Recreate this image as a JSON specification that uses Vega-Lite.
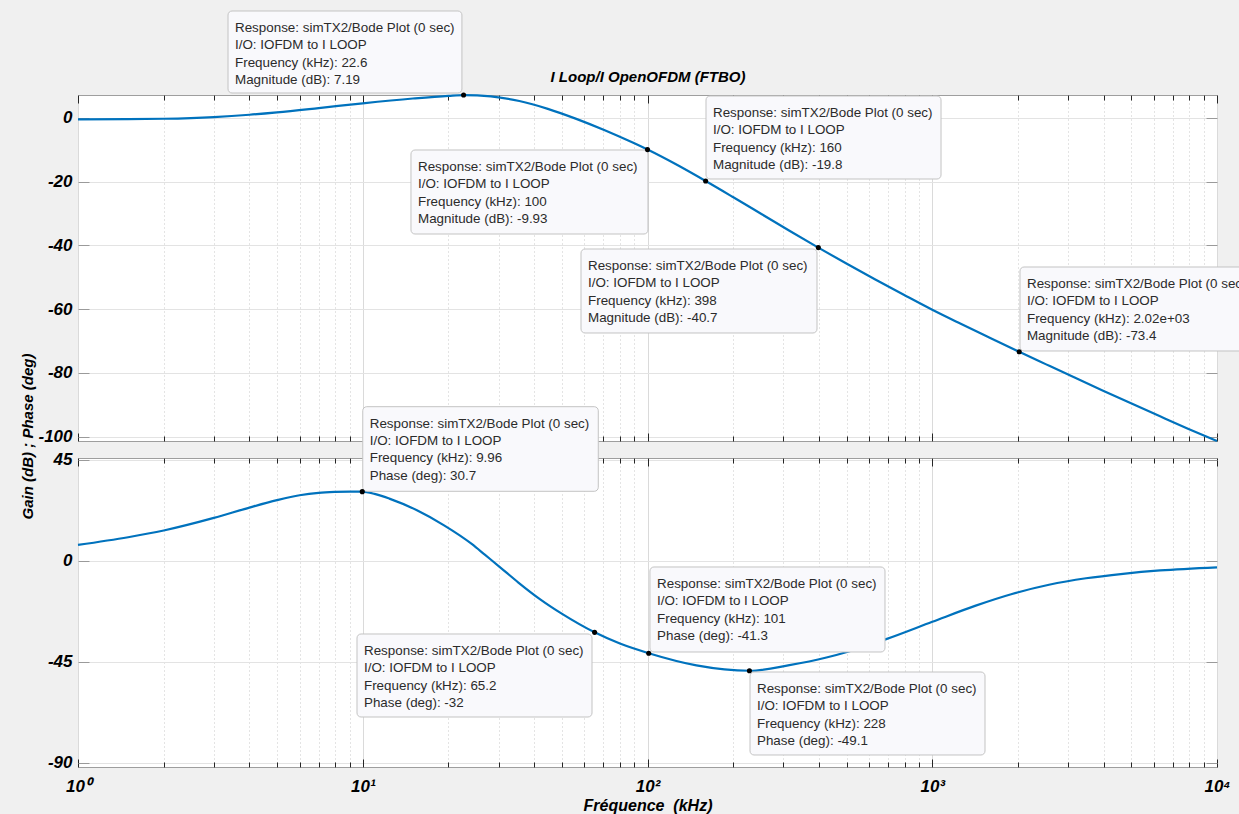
{
  "$schema": "https://vega.github.io/schema/vega-lite/v6.json",
  "background": "#f0f0f0",
  "padding": {"left": 19, "top": 9, "right": 0, "bottom": 0},
  "spacing": 17,
  "bounds": "flush",
  "config": {
    "view": {"fill": "white", "stroke": "#9e9e9e", "strokeWidth": 1},
    "font": "Liberation Sans",
    "axis": {"domain": false, "labelOverlap": false, "labelFlush": false}
  },
  "datasets": {
    "mag": [
      {"f": 1, "db": -0.45}, {"f": 1.5, "db": -0.4}, {"f": 2, "db": -0.26}, {"f": 3, "db": 0.28},
      {"f": 4, "db": 1.0}, {"f": 5, "db": 1.75}, {"f": 7, "db": 3.1}, {"f": 10, "db": 4.6},
      {"f": 15, "db": 6.1}, {"f": 20, "db": 6.95}, {"f": 22.6, "db": 7.19}, {"f": 28.18, "db": 6.76},
      {"f": 35.48, "db": 5.31}, {"f": 44.67, "db": 2.86}, {"f": 56.23, "db": -0.29}, {"f": 70.79, "db": -3.87},
      {"f": 89.13, "db": -7.82}, {"f": 100, "db": -9.93}, {"f": 125.9, "db": -14.56}, {"f": 160, "db": -19.8},
      {"f": 199.5, "db": -24.82}, {"f": 251.2, "db": -30.15}, {"f": 316.2, "db": -35.48}, {"f": 398, "db": -40.7},
      {"f": 501.2, "db": -45.79}, {"f": 631, "db": -50.71}, {"f": 794.3, "db": -55.5}, {"f": 1000, "db": -60.2},
      {"f": 1259, "db": -64.6}, {"f": 1585, "db": -68.9}, {"f": 2020, "db": -73.4}, {"f": 2512, "db": -77.35},
      {"f": 3162, "db": -81.5}, {"f": 3981, "db": -85.6}, {"f": 5012, "db": -89.65}, {"f": 6310, "db": -93.65},
      {"f": 7943, "db": -97.6}, {"f": 10000, "db": -101.4}
    ],
    "phase": [
      {"f": 1, "deg": 7.0}, {"f": 1.5, "deg": 10.4}, {"f": 2, "deg": 13.4}, {"f": 3, "deg": 19.0},
      {"f": 4, "deg": 23.6}, {"f": 5, "deg": 26.9}, {"f": 6, "deg": 29.1}, {"f": 7, "deg": 30.2},
      {"f": 8, "deg": 30.6}, {"f": 9, "deg": 30.75}, {"f": 9.96, "deg": 30.7}, {"f": 11, "deg": 29.7},
      {"f": 12.4, "deg": 27.6}, {"f": 15.5, "deg": 22.4}, {"f": 19.3, "deg": 15.7}, {"f": 24.2, "deg": 7.3},
      {"f": 26.9, "deg": 2.5}, {"f": 30.3, "deg": -2.9}, {"f": 35.2, "deg": -9.8}, {"f": 42, "deg": -17.3},
      {"f": 50.3, "deg": -23.9}, {"f": 65.2, "deg": -32.0}, {"f": 80, "deg": -37.0}, {"f": 101, "deg": -41.3},
      {"f": 148.5, "deg": -46.7}, {"f": 228, "deg": -49.1}, {"f": 315, "deg": -46.6}, {"f": 425, "deg": -43.2},
      {"f": 509, "deg": -40.5}, {"f": 689, "deg": -35.0}, {"f": 1000, "deg": -27.3}, {"f": 1413, "deg": -20.2},
      {"f": 1906, "deg": -14.9}, {"f": 2570, "deg": -10.8}, {"f": 3467, "deg": -7.9}, {"f": 4677, "deg": -5.9},
      {"f": 6310, "deg": -4.4}, {"f": 10000, "deg": -3.0}
    ],
    "magTips": [
      {"f": 22.6, "v": 7.19, "bx1": 3.364, "bx2": 22.3, "by1": 33.57, "by2": 7.83, "tx": 3.559, "ty": 30.43,
       "label": "Response: simTX2/Bode Plot (0 sec)\nI/O: IOFDM to I LOOP\nFrequency (kHz): 22.6\nMagnitude (dB): 7.19"},
      {"f": 160, "v": -19.8, "bx1": 160.5, "bx2": 1073.5, "by1": 6.89, "by2": -19.17, "tx": 169.8, "ty": 3.75,
       "label": "Response: simTX2/Bode Plot (0 sec)\nI/O: IOFDM to I LOOP\nFrequency (kHz): 160\nMagnitude (dB): -19.8"},
      {"f": 100, "v": -9.93, "bx1": 14.77, "bx2": 100.4, "by1": -10.06, "by2": -36.43, "tx": 15.63, "ty": -13.2,
       "label": "Response: simTX2/Bode Plot (0 sec)\nI/O: IOFDM to I LOOP\nFrequency (kHz): 100\nMagnitude (dB): -9.93"},
      {"f": 398, "v": -40.7, "bx1": 58.41, "bx2": 393.8, "by1": -41.14, "by2": -67.5, "tx": 61.81, "ty": -44.28,
       "label": "Response: simTX2/Bode Plot (0 sec)\nI/O: IOFDM to I LOOP\nFrequency (kHz): 398\nMagnitude (dB): -40.7"},
      {"f": 2020, "v": -73.4, "bx1": 2033, "bx2": 14158, "by1": -46.79, "by2": -73.15, "tx": 2151, "ty": -49.92,
       "label": "Response: simTX2/Bode Plot (0 sec)\nI/O: IOFDM to I LOOP\nFrequency (kHz): 2.02e+03\nMagnitude (dB): -73.4"}
    ],
    "phaseTips": [
      {"f": 9.96, "v": 30.7, "bx1": 10.0, "bx2": 67.17, "by1": 68.56, "by2": 30.86, "tx": 10.58, "ty": 64.1,
       "label": "Response: simTX2/Bode Plot (0 sec)\nI/O: IOFDM to I LOOP\nFrequency (kHz): 9.96\nPhase (deg): 30.7"},
      {"f": 65.2, "v": -32, "bx1": 9.546, "bx2": 63.84, "by1": -32.73, "by2": -69.72, "tx": 10.1, "ty": -37.19,
       "label": "Response: simTX2/Bode Plot (0 sec)\nI/O: IOFDM to I LOOP\nFrequency (kHz): 65.2\nPhase (deg): -32"},
      {"f": 101, "v": -41.3, "bx1": 102.0, "bx2": 682.4, "by1": -2.87, "by2": -40.75, "tx": 108.0, "ty": -7.33,
       "label": "Response: simTX2/Bode Plot (0 sec)\nI/O: IOFDM to I LOOP\nFrequency (kHz): 101\nPhase (deg): -41.3"},
      {"f": 228, "v": -49.1, "bx1": 229.1, "bx2": 1532, "by1": -49.67, "by2": -86.65, "tx": 242.4, "ty": -54.12,
       "label": "Response: simTX2/Bode Plot (0 sec)\nI/O: IOFDM to I LOOP\nFrequency (kHz): 228\nPhase (deg): -49.1"}
    ]
  },
  "vconcat": [
    {
      "width": 1139,
      "height": 346,
      "resolve": {"axis": {"x": "independent", "y": "independent"}},
      "layer": [
        {
          "data": {"name": "mag"},
          "mark": {"type": "line", "color": "#0072BD", "strokeWidth": 2.2, "interpolate": "monotone"},
          "encoding": {
            "x": {"field": "f", "type": "quantitative", "scale": {"type": "log", "domain": [1, 10000], "nice": false},
              "axis": {"orient": "bottom", "values": [1,2,3,4,5,6,7,8,9,10,20,30,40,50,60,70,80,90,100,200,300,400,500,600,700,800,900,1000,2000,3000,4000,5000,6000,7000,8000,9000,10000],
                "grid": true,
                "gridColor": {"condition": {"test": "indexof([1,10,100,1000,10000], datum.value) >= 0", "value": "#dadada"}, "value": "#c8c8c8"},
                "gridDash": {"condition": {"test": "indexof([1,10,100,1000,10000], datum.value) >= 0", "value": []}, "value": [1, 3]},
                "ticks": true, "tickColor": "#262626",
                "tickSize": {"condition": {"test": "indexof([1,10,100,1000,10000], datum.value) >= 0", "value": -8}, "value": -5},
                "labels": false, "title": null}},
            "y": {"field": "db", "type": "quantitative", "scale": {"domain": [-101.4, 7.2], "nice": false, "zero": false},
              "axis": {"orient": "left", "values": [0, -20, -40, -60, -80, -100], "grid": true, "gridColor": "#e3e3e3",
                "ticks": true, "tickColor": "#9a9a9a", "tickSize": -11,
                "labelExpr": "'' + datum.value", "labelFont": "Liberation Sans", "labelFontSize": 17, "labelFontWeight": "bold", "labelFontStyle": "italic", "labelColor": "#000000", "labelPadding": 17,
                "title": "Gain (dB) ; Phase (deg)", "titleFont": "Liberation Sans", "titleFontSize": 15, "titleFontWeight": "bold", "titleFontStyle": "italic", "titleColor": "#000000",
                "titleX": -51, "titleY": 341, "titleAngle": 270, "titleAlign": "center", "titleBaseline": "middle"}}
          }
        },
        {
          "data": {"name": "magTips"},
          "mark": {"type": "rect", "fill": "#f9f9fc", "stroke": "#c3c3c3", "strokeWidth": 1, "cornerRadius": 4},
          "encoding": {
            "x": {"field": "bx1", "type": "quantitative", "scale": {"type": "log", "domain": [1, 10000], "nice": false}, "axis": null},
            "x2": {"field": "bx2"},
            "y": {"field": "by1", "type": "quantitative", "scale": {"domain": [-101.4, 7.2], "nice": false, "zero": false}, "axis": null},
            "y2": {"field": "by2"}
          }
        },
        {
          "data": {"name": "magTips"},
          "mark": {"type": "text", "align": "left", "baseline": "top", "font": "Liberation Sans", "fontSize": 13.4, "color": "#2b2b2b", "lineBreak": "\n", "lineHeight": 17.3},
          "encoding": {
            "x": {"field": "tx", "type": "quantitative", "scale": {"type": "log", "domain": [1, 10000], "nice": false}, "axis": null},
            "y": {"field": "ty", "type": "quantitative", "scale": {"domain": [-101.4, 7.2], "nice": false, "zero": false}, "axis": null},
            "text": {"field": "label", "type": "nominal"}
          }
        },
        {
          "data": {"name": "magTips"},
          "mark": {"type": "point", "filled": true, "color": "#000000", "size": 26, "opacity": 1},
          "encoding": {
            "x": {"field": "f", "type": "quantitative", "scale": {"type": "log", "domain": [1, 10000], "nice": false},
              "axis": {"orient": "top", "values": [1,2,3,4,5,6,7,8,9,10,20,30,40,50,60,70,80,90,100,200,300,400,500,600,700,800,900,1000,2000,3000,4000,5000,6000,7000,8000,9000,10000],
                "grid": false, "ticks": true, "tickColor": "#262626",
                "tickSize": {"condition": {"test": "indexof([1,10,100,1000,10000], datum.value) >= 0", "value": -8}, "value": -5},
                "labels": false,
                "title": "I Loop/I OpenOFDM (FTBO)", "titleFont": "Liberation Sans", "titleFontSize": 15, "titleFontWeight": "bold", "titleFontStyle": "italic", "titleColor": "#000000",
                "titleY": -19, "titleBaseline": "middle", "titleAlign": "center"}},
            "y": {"field": "v", "type": "quantitative", "scale": {"domain": [-101.4, 7.2], "nice": false, "zero": false},
              "axis": {"orient": "right", "values": [0, -20, -40, -60, -80, -100], "grid": false, "ticks": true, "tickColor": "#9a9a9a", "tickSize": -11, "labels": false, "title": null}}
          }
        }
      ]
    },
    {
      "width": 1139,
      "height": 309,
      "resolve": {"axis": {"x": "independent", "y": "independent"}},
      "layer": [
        {
          "data": {"name": "phase"},
          "mark": {"type": "line", "color": "#0072BD", "strokeWidth": 2.2, "interpolate": "monotone"},
          "encoding": {
            "x": {"field": "f", "type": "quantitative", "scale": {"type": "log", "domain": [1, 10000], "nice": false},
              "axis": {"orient": "bottom", "values": [1,2,3,4,5,6,7,8,9,10,20,30,40,50,60,70,80,90,100,200,300,400,500,600,700,800,900,1000,2000,3000,4000,5000,6000,7000,8000,9000,10000],
                "grid": true,
                "gridColor": {"condition": {"test": "indexof([1,10,100,1000,10000], datum.value) >= 0", "value": "#dadada"}, "value": "#c8c8c8"},
                "gridDash": {"condition": {"test": "indexof([1,10,100,1000,10000], datum.value) >= 0", "value": []}, "value": [1, 3]},
                "ticks": true, "tickColor": "#262626",
                "tickSize": {"condition": {"test": "indexof([1,10,100,1000,10000], datum.value) >= 0", "value": -8}, "value": -5},
                "labelExpr": "datum.value == 1 ? '10⁰' : datum.value == 10 ? '10¹' : datum.value == 100 ? '10²' : datum.value == 1000 ? '10³' : datum.value == 10000 ? '10⁴' : ''",
                "labelFont": "Liberation Sans", "labelFontSize": 17, "labelFontWeight": "bold", "labelFontStyle": "italic", "labelColor": "#000000", "labelPadding": 19,
                "title": "Fréquence\u00a0 (kHz)", "titleFont": "Liberation Sans", "titleFontSize": 16, "titleFontWeight": "bold", "titleFontStyle": "italic", "titleColor": "#000000",
                "titleY": 38, "titleBaseline": "middle"}},
            "y": {"field": "deg", "type": "quantitative", "scale": {"domain": [-92, 45.7], "nice": false, "zero": false},
              "axis": {"orient": "left", "values": [45, 0, -45, -90], "grid": true, "gridColor": "#e3e3e3",
                "ticks": true, "tickColor": "#9a9a9a", "tickSize": -11,
                "labelExpr": "'' + datum.value", "labelFont": "Liberation Sans", "labelFontSize": 17, "labelFontWeight": "bold", "labelFontStyle": "italic", "labelColor": "#000000", "labelPadding": 17,
                "title": null}}
          }
        },
        {
          "data": {"name": "phaseTips"},
          "mark": {"type": "rect", "fill": "#f9f9fc", "stroke": "#c3c3c3", "strokeWidth": 1, "cornerRadius": 4},
          "encoding": {
            "x": {"field": "bx1", "type": "quantitative", "scale": {"type": "log", "domain": [1, 10000], "nice": false}, "axis": null},
            "x2": {"field": "bx2"},
            "y": {"field": "by1", "type": "quantitative", "scale": {"domain": [-92, 45.7], "nice": false, "zero": false}, "axis": null},
            "y2": {"field": "by2"}
          }
        },
        {
          "data": {"name": "phaseTips"},
          "mark": {"type": "text", "align": "left", "baseline": "top", "font": "Liberation Sans", "fontSize": 13.4, "color": "#2b2b2b", "lineBreak": "\n", "lineHeight": 17.3},
          "encoding": {
            "x": {"field": "tx", "type": "quantitative", "scale": {"type": "log", "domain": [1, 10000], "nice": false}, "axis": null},
            "y": {"field": "ty", "type": "quantitative", "scale": {"domain": [-92, 45.7], "nice": false, "zero": false}, "axis": null},
            "text": {"field": "label", "type": "nominal"}
          }
        },
        {
          "data": {"name": "phaseTips"},
          "mark": {"type": "point", "filled": true, "color": "#000000", "size": 26, "opacity": 1},
          "encoding": {
            "x": {"field": "f", "type": "quantitative", "scale": {"type": "log", "domain": [1, 10000], "nice": false},
              "axis": {"orient": "top", "values": [1,2,3,4,5,6,7,8,9,10,20,30,40,50,60,70,80,90,100,200,300,400,500,600,700,800,900,1000,2000,3000,4000,5000,6000,7000,8000,9000,10000],
                "grid": false, "ticks": true, "tickColor": "#262626",
                "tickSize": {"condition": {"test": "indexof([1,10,100,1000,10000], datum.value) >= 0", "value": -8}, "value": -5},
                "labels": false, "title": null}},
            "y": {"field": "v", "type": "quantitative", "scale": {"domain": [-92, 45.7], "nice": false, "zero": false},
              "axis": {"orient": "right", "values": [45, 0, -45, -90], "grid": false, "ticks": true, "tickColor": "#9a9a9a", "tickSize": -11, "labels": false, "title": null}}
          }
        }
      ]
    }
  ]
}
